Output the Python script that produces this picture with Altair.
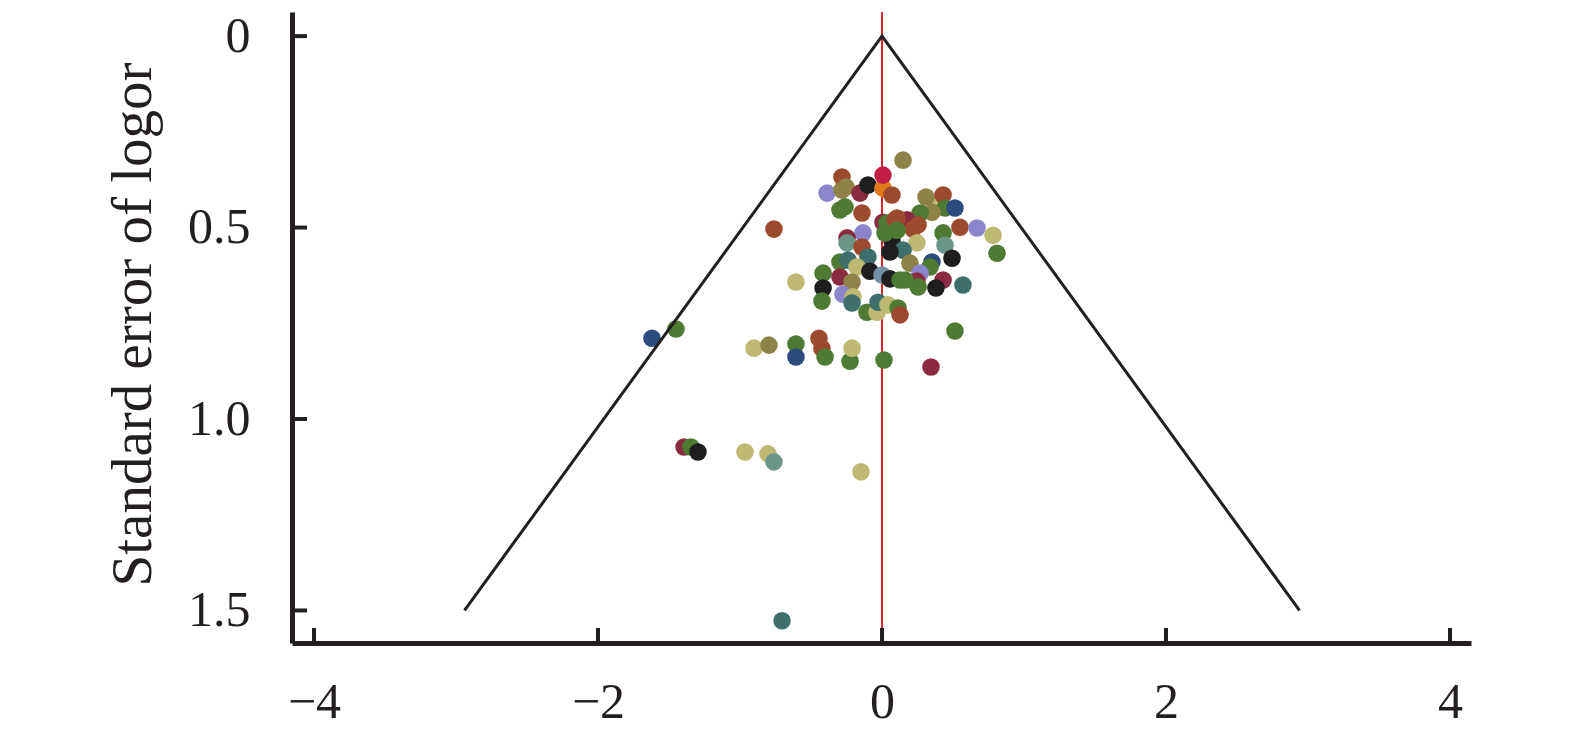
import altair as alt
import pandas as pd

# ---- data ----
point_logor = [
    -1.620, -1.451, -0.761, -0.901, -0.796, -0.606, -0.606, -0.444, -0.423, -0.401,
    -0.225, -0.211, 0.014, 0.345, 0.514, -1.394, -1.345, -1.296, -0.965, -0.803,
    -0.761, -0.148, -0.704, -0.606, 0.148, -0.282, -0.387, -0.282, -0.254, -0.155,
    -0.099, 0.007, 0.007, 0.070, -0.296, -0.261, -0.141, 0.007, 0.035, 0.092,
    0.394, 0.310, 0.430, 0.444, 0.514, 0.352, 0.268, 0.176, 0.106, 0.254,
    0.218, 0.549, 0.669, 0.782, 0.810, 0.430, 0.444, 0.246, 0.070, 0.148,
    0.056, 0.493, 0.352, 0.338, 0.197, -0.134, -0.246, -0.246, -0.141, -0.099,
    -0.296, -0.239, -0.176, -0.085, 0.000, 0.056, 0.127, 0.268, 0.246, 0.430,
    0.380, 0.570, -0.415, -0.296, -0.415, -0.211, -0.275, -0.204, -0.423, -0.211,
    -0.106, -0.035, -0.028, 0.042, 0.113, 0.127, 0.021, 0.106, 0.162, 0.254,
]
point_se = [
    0.789, 0.765, 0.504, 0.815, 0.807, 0.804, 0.838, 0.789, 0.815, 0.838,
    0.849, 0.815, 0.846, 0.864, 0.770, 1.073, 1.073, 1.086, 1.086, 1.091,
    1.112, 1.138, 1.527, 0.642, 0.324, 0.368, 0.410, 0.402, 0.394, 0.410,
    0.389, 0.397, 0.363, 0.415, 0.454, 0.446, 0.462, 0.486, 0.488, 0.480,
    0.436, 0.420, 0.415, 0.449, 0.449, 0.460, 0.462, 0.480, 0.475, 0.493,
    0.504, 0.499, 0.501, 0.520, 0.567, 0.514, 0.546, 0.540, 0.533, 0.559,
    0.564, 0.580, 0.590, 0.603, 0.593, 0.514, 0.527, 0.540, 0.551, 0.577,
    0.590, 0.585, 0.603, 0.614, 0.624, 0.634, 0.637, 0.619, 0.640, 0.637,
    0.658, 0.650, 0.619, 0.629, 0.658, 0.642, 0.674, 0.681, 0.692, 0.697,
    0.721, 0.721, 0.695, 0.702, 0.710, 0.728, 0.514, 0.507, 0.637, 0.655,
]
point_group = [
    "N", "G", "R", "K", "O", "G", "N", "R", "R", "G",
    "G", "K", "G", "M", "G", "M", "G", "B", "K", "K",
    "S", "K", "T", "K", "O", "R", "L", "O", "O", "M",
    "B", "Y", "C", "R", "G", "G", "R", "M", "G", "R",
    "K", "O", "R", "G", "N", "O", "G", "M", "R", "R",
    "R", "R", "L", "K", "G", "G", "S", "K", "B", "T",
    "B", "B", "N", "G", "O", "L", "M", "S", "R", "T",
    "G", "T", "K", "B", "E", "B", "G", "L", "M", "M",
    "B", "T", "G", "M", "B", "O", "L", "K", "G", "T",
    "G", "K", "T", "K", "G", "R", "G", "G", "G", "G",
]
group_names = ["N", "G", "R", "O", "K", "M", "L", "T", "S", "B", "C", "Y", "E"]
group_colors = ["#2D4C7E", "#4E7A34", "#9B4A2D", "#8F8249", "#BDB872", "#8A2B42",
                "#8B86CB", "#3F6F6C", "#6C968A", "#1E1D1F", "#C31F44", "#E07A1D", "#7590A5"]

funnel_logor = [-2.94, 0.0, 2.94]
funnel_se = [1.5, 0.0, 1.5]
funnel_order = [0, 1, 2]

x_ticks = [-4, -2, 0, 2, 4]
y_ticks = [0, 0.5, 1.0, 1.5]

x_domain = [-4.155, 4.148]
y_domain = [-0.063, 1.585]

W, H = 1179, 631
FONT = "Liberation Serif"
INK = "#231F20"

points = pd.DataFrame({"logor": point_logor, "se": point_se, "grp": point_group,
                       "idx": list(range(len(point_logor)))})
funnel = pd.DataFrame({"logor": funnel_logor, "se": funnel_se, "o": funnel_order})

xscale = alt.Scale(domain=x_domain, nice=False, zero=False)
yscale = alt.Scale(domain=y_domain, nice=False, zero=False, reverse=True)

xaxis = alt.Axis(values=x_ticks, ticks=False, tickSize=0, grid=False, title=None,
                 domainWidth=5, domainColor=INK, labelFont=FONT, labelFontSize=50,
                 labelColor=INK, labelPadding=34, labelFlush=False)
yaxis = alt.Axis(values=y_ticks, ticks=False, tickSize=0, grid=False,
                 title="Standard error of logor", titleFont=FONT, titleFontSize=57,
                 titleFontWeight="normal", titleColor=INK, titleX=-142, titleY=312,
                 titleBaseline="alphabetic", titleAlign="center", titleAngle=270,
                 domainWidth=5, domainColor=INK, labelFont=FONT, labelFontSize=50,
                 labelColor=INK, labelPadding=42, labelFlush=False,
                 labelExpr="datum.value == 0 ? '0' : format(datum.value, '.1f')")

base_x = alt.X("logor:Q", scale=xscale, axis=xaxis)
base_y = alt.Y("se:Q", scale=yscale, axis=yaxis)

red = alt.Chart(pd.DataFrame({"logor": [0.0]})).mark_rule(
    color="#D3282E", strokeWidth=2).encode(x=base_x)

dots = alt.Chart(points).mark_circle(size=310, opacity=1).encode(
    x=base_x, y=base_y,
    color=alt.Color("grp:N", scale=alt.Scale(domain=group_names, range=group_colors), legend=None),
    order=alt.Order("idx:Q"),
)

tri = alt.Chart(funnel).mark_line(color=INK, strokeWidth=3).encode(
    x=base_x, y=base_y, order="o:Q")

ytick_marks = alt.Chart(pd.DataFrame({"se": y_ticks})).mark_rule(
    color=INK, strokeWidth=4).encode(y=base_y, x=alt.value(0), x2=alt.value(15))
xtick_marks = alt.Chart(pd.DataFrame({"logor": x_ticks})).mark_rule(
    color=INK, strokeWidth=4).encode(x=base_x, y=alt.value(H), y2=alt.value(H - 15))

chart = alt.layer(red, dots, tri, ytick_marks, xtick_marks).properties(
    width=W, height=H,
    autosize=alt.AutoSizeParams(type="none"),
    padding={"left": 284, "top": 4, "right": 90, "bottom": 89},
    view=alt.ViewBackground(strokeWidth=0, strokeOpacity=0, fill="white"),
).configure_view(strokeWidth=0, strokeOpacity=0).configure(background="white")

chart.save("out.html", embed_options={"renderer": "svg", "actions": False})
